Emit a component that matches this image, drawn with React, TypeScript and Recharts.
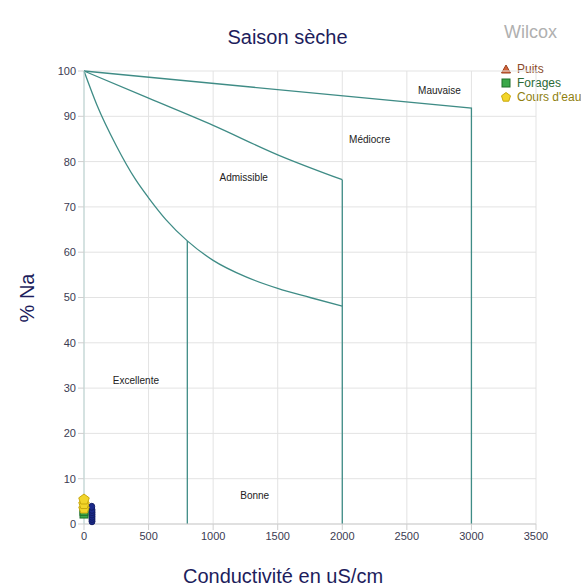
import {
  ComposedChart,
  Line,
  Scatter,
  XAxis,
  YAxis,
  CartesianGrid,
  ReferenceDot,
} from 'recharts';

// Classification boundaries (conductivity uS/cm, % Na)
const limitMauvaise = [
  { x: 0, y: 100 },
  { x: 3000, y: 91.8 },
  { x: 3000, y: 0 },
];
const limitMediocre = [
  { x: 0, y: 100 },
  { x: 500, y: 94 },
  { x: 1000, y: 88 },
  { x: 1500, y: 81.5 },
  { x: 2000, y: 76 },
];
const limitMediocreDrop = [
  { x: 2000, y: 76 },
  { x: 2000, y: 0 },
];
const limitAdmissible = [
  { x: 0, y: 100 },
  { x: 100, y: 92.5 },
  { x: 250, y: 83.5 },
  { x: 400, y: 76 },
  { x: 500, y: 72 },
  { x: 634, y: 67.2 },
  { x: 800, y: 62.5 },
  { x: 1000, y: 58.2 },
  { x: 1250, y: 54.6 },
  { x: 1500, y: 52 },
  { x: 1750, y: 50 },
  { x: 2000, y: 48.1 },
];
const limitBonne = [
  { x: 800, y: 62.5 },
  { x: 800, y: 0 },
];

const zoneLabels = [
  { name: 'Mauvaise', x: 2753, y: 95.6 },
  { name: 'Médiocre', x: 2212, y: 84.8 },
  { name: 'Admissible', x: 1237, y: 76.6 },
  { name: 'Excellente', x: 402, y: 31.6 },
  { name: 'Bonne', x: 1322, y: 6.4 },
];

const forages = [
  { x: 0, y: 2.2 },
  { x: 0, y: 2.8 },
];
const coursDeau = [
  { x: 0, y: 3.4 },
  { x: 0, y: 4.4 },
  { x: 0, y: 5.4 },
];
const autres = [
  { x: 62, y: 0.6 },
  { x: 62, y: 1.1 },
  { x: 62, y: 1.6 },
  { x: 62, y: 2.1 },
  { x: 62, y: 2.6 },
  { x: 62, y: 3.1 },
  { x: 60, y: 3.8 },
];

const xTicks = [0, 500, 1000, 1500, 2000, 2500, 3000, 3500];
const yTicks = [0, 10, 20, 30, 40, 50, 60, 70, 80, 90, 100];

const LINE = '#3f8c86';
const FONT = '"Liberation Sans", Arial, sans-serif';
const TICK = { fontSize: 11, fill: '#3b3b52', fontFamily: FONT };

const Pentagon = (props: any) => {
  const { cx, cy } = props;
  const r = 5.5;
  const pts = [0, 1, 2, 3, 4]
    .map((i) => {
      const a = -Math.PI / 2 + (i * 2 * Math.PI) / 5;
      return `${cx + r * Math.cos(a)},${cy + r * Math.sin(a)}`;
    })
    .join(' ');
  return <polygon points={pts} fill="#f2d52a" stroke="#c9a80e" strokeWidth={1} />;
};

const Square = (props: any) => {
  const { cx, cy } = props;
  return <rect x={cx - 4} y={cy - 4} width={8} height={8} fill="#3aa84a" stroke="#1f6e2a" strokeWidth={1} />;
};

const Dot = (props: any) => {
  const { cx, cy } = props;
  return <ellipse cx={cx} cy={cy} rx={3} ry={3.5} fill="#1b2a8a" stroke="#121d66" strokeWidth={1} />;
};

export default function App() {
  return (
    <div
      style={{
        position: 'absolute',
        left: 0,
        top: 0,
        width: 581,
        height: 584,
        overflow: 'hidden',
        background: '#fff',
        fontFamily: FONT,
      }}
    >
      <div style={{ position: 'absolute', left: 0, width: 575, top: 26, textAlign: 'center', fontSize: 20, color: '#1d1d5c' }}>
        Saison sèche
      </div>
      <div style={{ position: 'absolute', left: 504, top: 22, fontSize: 18, color: '#b0b0b0' }}>Wilcox</div>
      <div
        style={{
          position: 'absolute',
          left: 27,
          top: 298,
          fontSize: 20,
          color: '#1d1d5c',
          transform: 'translate(-50%, -50%) rotate(-90deg)',
          whiteSpace: 'nowrap',
        }}
      >
        % Na
      </div>
      <div style={{ position: 'absolute', left: 0, width: 566, top: 565, textAlign: 'center', fontSize: 20, color: '#1d1d5c' }}>
        Conductivité en uS/cm
      </div>

      <div style={{ position: 'absolute', left: 501, top: 62, fontSize: 12, lineHeight: '14px', whiteSpace: 'nowrap' }}>
        <div style={{ display: 'flex', alignItems: 'center' }}>
          <svg width={10} height={10} style={{ marginRight: 6 }}>
            <polygon points="5,1 9.5,9 0.5,9" fill="#d2643a" stroke="#9a3f1e" />
          </svg>
          <span style={{ color: '#8a4a2a' }}>Puits</span>
        </div>
        <div style={{ display: 'flex', alignItems: 'center' }}>
          <svg width={10} height={10} style={{ marginRight: 6 }}>
            <rect x={1} y={1} width={8} height={8} fill="#3aa84a" stroke="#1f6e2a" />
          </svg>
          <span style={{ color: '#2d6a35' }}>Forages</span>
        </div>
        <div style={{ display: 'flex', alignItems: 'center' }}>
          <svg width={10} height={10} style={{ marginRight: 6 }}>
            <polygon points="5,0.5 9.5,3.8 7.8,9.2 2.2,9.2 0.5,3.8" fill="#f2d52a" stroke="#c9a80e" />
          </svg>
          <span style={{ color: '#8f7f10' }}>Cours d'eau</span>
        </div>
      </div>

      <ComposedChart
        width={581}
        height={584}
        margin={{ top: 71, right: 45, bottom: 30, left: 34 }}
        style={{ position: 'absolute', left: 0, top: 0 }}
      >
        <CartesianGrid stroke="#e3e3e3" />
        <XAxis
          type="number"
          dataKey="x"
          domain={[0, 3500]}
          ticks={xTicks}
          height={30}
          tick={TICK}
          stroke="#cfcfcf"
          tickLine={{ stroke: '#cfcfcf' }}
        />
        <YAxis
          type="number"
          dataKey="y"
          domain={[0, 100]}
          ticks={yTicks}
          width={50}
          tick={TICK}
          stroke="#b9d3d1"
          tickLine={{ stroke: '#cfcfcf' }}
        />
        <Line data={limitMauvaise} dataKey="y" type="linear" stroke={LINE} strokeWidth={1.3} dot={false} isAnimationActive={false} />
        <Line data={limitMediocre} dataKey="y" type="monotone" stroke={LINE} strokeWidth={1.3} dot={false} isAnimationActive={false} />
        <Line data={limitMediocreDrop} dataKey="y" type="linear" stroke={LINE} strokeWidth={1.3} dot={false} isAnimationActive={false} />
        <Line data={limitAdmissible} dataKey="y" type="monotone" stroke={LINE} strokeWidth={1.3} dot={false} isAnimationActive={false} />
        <Line data={limitBonne} dataKey="y" type="linear" stroke={LINE} strokeWidth={1.3} dot={false} isAnimationActive={false} />
        {zoneLabels.map((z) => (
          <ReferenceDot
            key={z.name}
            x={z.x}
            y={z.y}
            r={0}
            stroke="none"
            label={{ value: z.name, position: 'center', fontSize: 10, fill: '#222', fontFamily: FONT }}
          />
        ))}
        <Scatter data={autres} dataKey="y" shape={Dot} isAnimationActive={false} />
        <Scatter data={forages} dataKey="y" shape={Square} isAnimationActive={false} />
        <Scatter data={coursDeau} dataKey="y" shape={Pentagon} isAnimationActive={false} />
      </ComposedChart>
    </div>
  );
}
